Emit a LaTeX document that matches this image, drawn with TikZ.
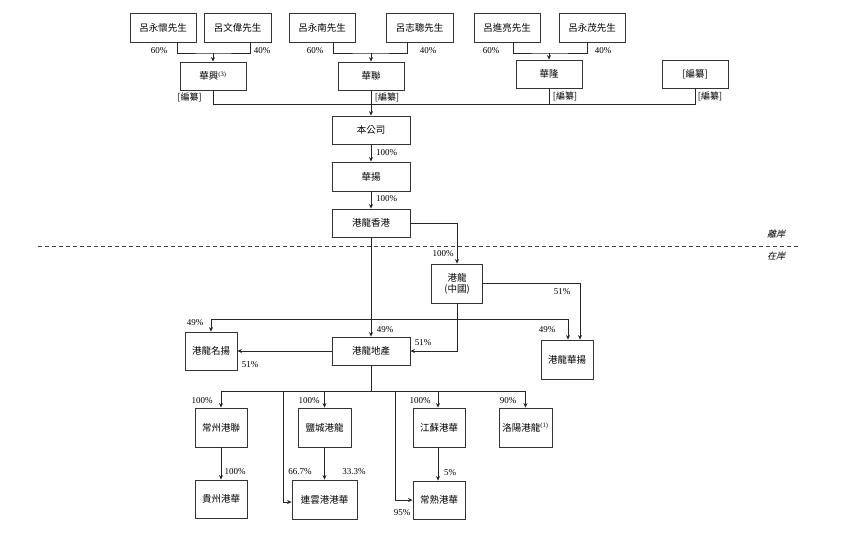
\documentclass[tikz,border=0pt]{standalone}
\usepackage{fontspec}
\setmainfont{Liberation Serif}
\newfontfamily\cjk{Noto Sans CJK TC}
\newfontfamily\cjkit{Noto Sans CJK TC}[FakeSlant=0.25]
\usetikzlibrary{arrows.meta}
\begin{document}
\begin{tikzpicture}[x=1pt,y=-1pt,
  box/.style={draw=black!80, line width=0.9pt, inner sep=1pt, align=center,
    font=\cjk\fontsize{9.5}{11.5}\selectfont},
  link/.style={draw=black!85, line width=0.6pt},
  arr/.style={link, -{Stealth[length=4.5pt,width=4pt]}},
  pct/.style={font=\fontsize{9}{10}\selectfont, inner sep=0pt},
  redact/.style={font=\cjk\fontsize{9}{10}\selectfont, inner sep=0pt},
  zone/.style={font=\cjkit\fontsize{9}{10}\selectfont, inner sep=0pt}]
\useasboundingbox (0,0) rectangle (865,533);

% top row
\node[box, minimum width=66pt, minimum height=29pt] (p1) at (163,27.5) {呂永懷先生};
\node[box, minimum width=67pt, minimum height=29pt] (p2) at (237.5,27.5) {呂文偉先生};
\node[box, minimum width=66pt, minimum height=29pt] (p3) at (322,27.5) {呂永南先生};
\node[box, minimum width=67pt, minimum height=29pt] (p4) at (419.5,27.5) {呂志聰先生};
\node[box, minimum width=66pt, minimum height=29pt] (p5) at (507,27.5) {呂進亮先生};
\node[box, minimum width=66pt, minimum height=29pt] (p6) at (592,27.5) {呂永茂先生};

\node[box, minimum width=66pt, minimum height=28pt] (h1) at (213,76) {華興\textsuperscript{\rmfamily(3)}};
\node[box, minimum width=66pt, minimum height=28pt] (h2) at (371,76) {華聯};
\node[box, minimum width=66pt, minimum height=28pt] (h3) at (549,74) {華隆};
\node[box, minimum width=66pt, minimum height=28pt] (h4) at (695,74) {[編纂]};

\coordinate (j1) at (213,53);
\coordinate (j2) at (371,53);
\coordinate (j3) at (549,53);
\draw[link] ([xshift=14pt]p1.south) |- (j1) -| ([xshift=12.5pt]p2.south);
\draw[arr] (j1) -- (h1.north);
\draw[link] ([xshift=11pt]p3.south) |- (j2) -| ([xshift=-12.5pt]p4.south);
\draw[arr] (j2) -- (h2.north);
\draw[link] ([xshift=6pt]p5.south) |- (j3) -| ([xshift=-5pt]p6.south);
\draw[arr] (j3) -- (h3.north);

\node[pct] (l1) at (159,51) {60\%};
\node[pct] (l2) at (262,51) {40\%};
\node[pct] (l3) at (315,51) {60\%};
\node[pct] (l4) at (428,51) {40\%};
\node[pct] (l5) at (491,51) {60\%};
\node[pct] (l6) at (603,51) {40\%};

% bus to company
\coordinate (bL) at (213,104);
\coordinate (bR) at (695,104);
\draw[link] (h1.south) -- (bL) -- (bR) -- (h4.south);
\draw[link] (h3.south) -- (h3.south |- bL);

\node[redact] (r1) at (189.5,97) {[編纂]};
\node[redact] (r2) at (387,97) {[編纂]};
\node[redact] (r3) at (565,96) {[編纂]};
\node[redact] (r4) at (710,96) {[編纂]};

\node[box, minimum width=78pt, minimum height=28pt] (c1) at (371,130) {本公司};
\node[box, minimum width=78pt, minimum height=29pt] (c2) at (371,176.5) {華揚};
\node[box, minimum width=78pt, minimum height=28pt] (c3) at (371,223) {港龍香港};
\draw[arr] (h2.south) -- (c1.north);
\draw[arr] (c1.south) -- (c2.north);
\draw[arr] (c2.south) -- (c3.north);
\node[pct, anchor=west] (l7) at (376,153) {100\%};
\node[pct, anchor=west] (l8) at (376,199) {100\%};

% offshore / onshore
\draw[black!75, line width=0.7pt, dash pattern=on 4pt off 3pt] (38,246) -- (800,246);
\node[zone] (z1) at (776,234) {離岸};
\node[zone] (z2) at (776,256) {在岸};

% middle level
\node[box, minimum width=51pt, minimum height=39pt, font=\cjk\fontsize{9.5}{11}\selectfont] (cn) at (457,283.5) {港龍\\(中國)};
\node[box, minimum width=52pt, minimum height=38pt] (mn) at (211,351) {港龍名揚};
\node[box, minimum width=78pt, minimum height=28pt] (dc) at (371,351) {港龍地產};
\node[box, minimum width=52pt, minimum height=39pt] (hy) at (567,359.5) {港龍華揚};

\draw[arr] (c3.east) -| (cn.north);
\node[pct] (l9) at (443,254) {100\%};
\draw[arr] (c3.south) -- (dc.north);
\coordinate (m49) at (371,319);
\draw[arr] (m49) -| (mn.north);
\draw[arr] (m49) -| ([xshift=1pt]hy.north);
\draw[arr] (cn.east) -| ([xshift=13pt]hy.north);
\draw[arr] (cn.south) |- (dc.east);
\draw[arr] (dc.west) -- (mn.east);

\node[pct] (l10) at (195,323) {49\%};
\node[pct] (l11) at (385,330) {49\%};
\node[pct] (l12) at (547,330) {49\%};
\node[pct] (l13) at (562,292) {51\%};
\node[pct] (l14) at (423,343) {51\%};
\node[pct] (l15) at (250,365) {51\%};

% bottom level
\node[box, minimum width=52pt, minimum height=39pt] (b1) at (221,427.5) {常州港聯};
\node[box, minimum width=53pt, minimum height=39pt] (b2) at (324.5,427.5) {鹽城港龍};
\node[box, minimum width=52pt, minimum height=39pt] (b3) at (439,427.5) {江蘇港華};
\node[box, minimum width=53pt, minimum height=39pt] (b4) at (525.5,427.5) {洛陽港龍\textsuperscript{\rmfamily(1)}};
\node[box, minimum width=52pt, minimum height=38pt] (b5) at (221,499) {貴州港華};
\node[box, minimum width=65pt, minimum height=39pt] (b6) at (324.5,499.5) {連雲港港華};
\node[box, minimum width=52pt, minimum height=38pt] (b7) at (439,500) {常熟港華};

\coordinate (bb) at (371,391);
\coordinate (k1) at (283,391);
\coordinate (k2) at (395,391);
\draw[link] (dc.south) -- (bb);
\draw[arr] (bb) -| (b1.north);
\draw[arr] (bb) -| (b4.north);
\draw[arr] (b2.north |- bb) -- (b2.north);
\draw[arr] ([xshift=-1pt]b3.north |- bb) -- ([xshift=-1pt]b3.north);
\draw[arr] (k1) |- ([yshift=-2.5pt]b6.west);
\draw[arr] (k2) |- (b7.west);
\draw[arr] (b1.south) -- (b5.north);
\draw[arr] (b2.south) -- (b6.north);
\draw[arr] ([xshift=-1pt]b3.south) -- ([xshift=-1pt]b7.north);

\node[pct] (l16) at (202,401) {100\%};
\node[pct] (l17) at (309,401) {100\%};
\node[pct] (l18) at (420,401) {100\%};
\node[pct] (l19) at (508,401) {90\%};
\node[pct] (l20) at (235,472) {100\%};
\node[pct] (l21) at (300,472) {66.7\%};
\node[pct] (l22) at (354,472) {33.3\%};
\node[pct] (l23) at (450,473) {5\%};
\node[pct] (l24) at (402,513) {95\%};
\end{tikzpicture}
\end{document}
